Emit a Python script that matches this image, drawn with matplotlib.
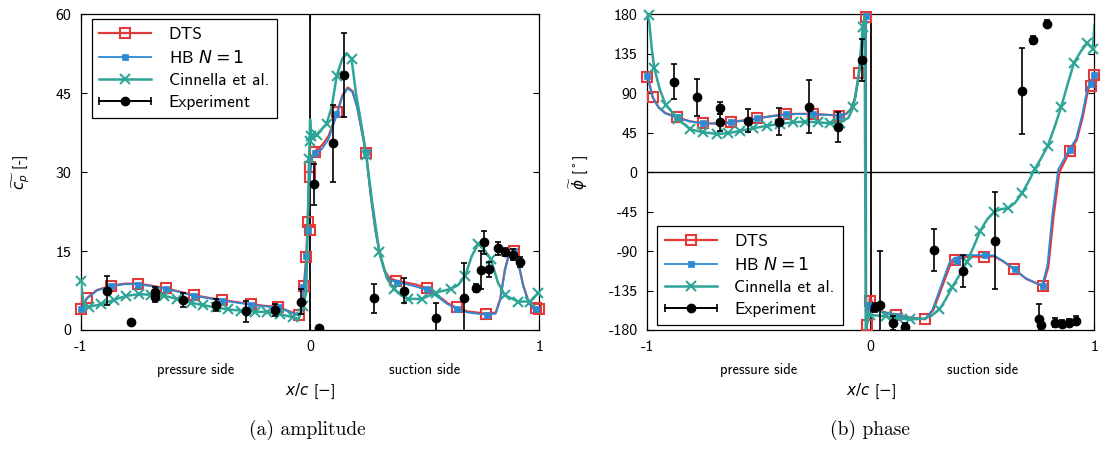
import matplotlib as mpl
mpl.use('Agg')
import matplotlib.pyplot as plt
from matplotlib.lines import Line2D
from matplotlib.legend_handler import HandlerLine2D, HandlerTuple

plt.rcParams['font.family'] = ['cmss10', 'DejaVu Sans']
plt.rcParams['mathtext.fontset'] = 'dejavusans'
plt.rcParams['axes.unicode_minus'] = False
plt.rcParams['axes.formatter.use_mathtext'] = False

# ---------------- amplitude (a) ----------------
amp_dts_x = [-1.0, -0.985, -0.973, -0.93, -0.867, -0.81, -0.75, -0.69, -0.63, -0.57, -0.507, -0.44,
             -0.384, -0.32, -0.259, -0.2, -0.142, -0.1, -0.065, -0.045, -0.033, -0.027, -0.017,
             -0.011, -0.005, 0.002, 0.01, 0.021, 0.05, 0.08, 0.119, 0.14, 0.164, 0.185, 0.205,
             0.225, 0.244, 0.265, 0.285, 0.305, 0.325, 0.345, 0.374, 0.42, 0.465, 0.508, 0.55,
             0.6, 0.639, 0.69, 0.768, 0.81, 0.83, 0.85, 0.868, 0.891, 0.91, 0.93, 0.955, 0.975, 1.0]
amp_dts_y = [3.9, 5.2, 6.1, 7.6, 8.4, 8.8, 8.8, 8.4, 7.9, 7.3, 6.6, 6.1,
             5.7, 5.3, 4.9, 4.6, 4.4, 3.7, 3.1, 2.8, 4.0, 8.4, 13.8,
             20.5, 27.0, 31.0, 33.2, 34.0, 35.0, 36.8, 41.5, 44.5, 46.1, 45.4, 42.5,
             38.0, 33.6, 25.5, 19.0, 14.3, 11.3, 9.9, 9.4, 9.0, 8.6, 7.9, 6.8,
             5.1, 4.2, 3.5, 3.1, 3.3, 6.0, 11.5, 14.5, 15.1, 12.5, 8.5, 5.2, 4.2, 4.0]
amp_dts_mx = [-1.0, -0.973, -0.867, -0.75, -0.63, -0.507, -0.384, -0.259, -0.142, -0.048, -0.027,
              -0.017, -0.011, -0.002, 0.0, 0.0, 0.021, 0.119, 0.244, 0.374, 0.508, 0.639, 0.768,
              0.891, 0.985, 1.0]
amp_dts_my = [3.9, 6.0, 8.4, 8.7, 7.9, 6.6, 5.7, 4.9, 4.4, 2.85, 8.4,
              13.8, 20.5, 19.0, 29.1, 31.0, 33.9, 41.5, 33.6, 9.4, 7.9, 4.3, 3.0,
              15.1, 4.1, 3.9]

amp_hb_x = amp_dts_x
amp_hb_y = [3.9, 5.1, 6.0, 7.5, 8.3, 8.7, 8.7, 8.3, 7.8, 7.2, 6.5, 6.0,
            5.6, 5.2, 4.8, 4.5, 4.3, 3.6, 3.0, 2.7, 3.8, 8.0, 13.2,
            20.0, 26.5, 30.5, 32.8, 33.6, 34.3, 36.2, 41.2, 44.3, 45.9, 45.2, 42.3,
            37.8, 33.5, 25.3, 18.8, 14.1, 11.1, 9.6, 9.1, 8.7, 8.2, 7.6, 6.5,
            4.9, 4.0, 3.3, 2.9, 3.1, 5.7, 11.2, 14.3, 15.0, 12.3, 8.3, 5.0, 4.0, 3.8]
amp_hb_mx = [-1.0, -0.867, -0.75, -0.63, -0.507, -0.384, -0.259, -0.142, -0.03, -0.017, -0.008,
             0.021, 0.115, 0.244, 0.378, 0.511, 0.639, 0.771, 0.891, 0.985]
amp_hb_my = [3.9, 8.3, 8.6, 7.8, 6.5, 5.6, 4.8, 4.3, 8.2, 14.0, 19.0,
             33.6, 41.0, 33.9, 9.0, 7.7, 4.0, 2.9, 15.0, 4.0]

amp_cin_x = [-1.0, -0.99, -0.98, -0.966, -0.911, -0.857, -0.802, -0.747, -0.693, -0.638, -0.58,
             -0.521, -0.467, -0.412, -0.357, -0.303, -0.24, -0.186, -0.131, -0.073, -0.05, -0.033,
             -0.017, -0.01, -0.005, -0.002, 0.0, 0.004, 0.028, 0.072, 0.095, 0.116, 0.14, 0.16,
             0.181, 0.2, 0.22, 0.244, 0.27, 0.302, 0.335, 0.367, 0.4, 0.428, 0.487, 0.549, 0.613,
             0.645, 0.676, 0.705, 0.734, 0.76, 0.788, 0.82, 0.85, 0.908, 0.959, 0.996, 1.0]
amp_cin_y = [9.3, 5.5, 4.2, 4.4, 4.9, 5.7, 6.5, 6.8, 6.7, 6.5, 5.9,
             5.2, 4.7, 4.3, 3.9, 3.7, 3.5, 3.4, 3.0, 2.4, 2.1, 4.6,
             7.0, 20.0, 32.4, 36.0, 40.0, 36.9, 37.1, 39.2, 42.5, 48.3, 51.5, 52.6,
             51.5, 45.0, 40.0, 33.6, 24.5, 14.9, 9.8, 7.8, 6.5, 5.9, 5.9, 7.1, 7.8,
             8.5, 10.2, 14.0, 16.4, 15.3, 13.5, 9.0, 6.6, 5.4, 5.4, 7.0, 7.2]
amp_cin_mx = [-1.0, -0.966, -0.911, -0.857, -0.802, -0.747, -0.693, -0.638, -0.58, -0.521, -0.467,
              -0.412, -0.357, -0.303, -0.24, -0.186, -0.131, -0.073, -0.033, -0.005, -0.002, 0.004,
              0.028, 0.072, 0.116, 0.181, 0.244, 0.302, 0.367, 0.428, 0.487, 0.549, 0.613, 0.676,
              0.734, 0.788, 0.85, 0.908, 0.959, 0.996]
amp_cin_my = [9.3, 4.4, 4.9, 5.7, 6.5, 6.8, 6.7, 6.5, 5.9, 5.2, 4.7,
              4.3, 3.9, 3.7, 3.5, 3.4, 3.0, 2.4, 4.6, 32.4, 36.0, 36.9,
              37.1, 39.2, 48.3, 51.5, 33.3, 14.9, 7.8, 5.9, 5.9, 7.1, 7.8, 10.2,
              16.4, 13.5, 6.6, 5.4, 5.4, 7.0]

amp_exp_x = [-0.888, -0.783, -0.676, -0.676, -0.553, -0.412, -0.28, -0.152, -0.041, 0.017, 0.04,
             0.098, 0.149, 0.277, 0.41, 0.55, 0.672, 0.724, 0.747, 0.757, 0.78, 0.819, 0.85,
             0.885, 0.916]
amp_exp_y = [7.5, 1.6, 7.2, 6.3, 5.7, 4.75, 3.6, 3.8, 5.4, 27.7, 0.3,
             35.5, 48.4, 6.0, 7.5, 2.2, 6.0, 8.0, 11.4, 16.7, 11.5, 15.5, 14.8,
             14.3, 12.9]
amp_exp_err = [2.8, 0.0, 1.0, 1.0, 1.3, 1.2, 2.0, 1.2, 2.4, 3.9, 0.0,
               7.3, 8.0, 2.7, 2.4, 3.0, 6.8, 0.8, 3.7, 2.2, 1.4, 1.2, 0.7,
               1.0, 1.0]

# ---------------- phase (b) ----------------
ph_dts_x = [-1.0, -0.99, -0.976, -0.95, -0.92, -0.869, -0.81, -0.749, -0.69, -0.627, -0.57, -0.508,
            -0.44, -0.381, -0.32, -0.26, -0.2, -0.144, -0.11, -0.09, -0.07, -0.053, -0.035, -0.023,
            -0.021, -0.018, -0.004, 0.01, 0.04, 0.08, 0.113, 0.18, 0.243, 0.28, 0.318, 0.355,
            0.377, 0.43, 0.508, 0.55, 0.594, 0.642, 0.697, 0.769, 0.794, 0.817, 0.843, 0.891,
            0.921, 0.948, 0.973, 0.985, 1.0]
ph_dts_y = [112, 100, 85.4, 74, 67.5, 62.6, 58, 55.7, 55.5, 56.8, 59, 61.4,
            64, 66, 66.5, 66.3, 65.5, 64.4, 66.5, 72, 85, 112.7, 150, 176.6,
            -180, -174.3, -142, -152, -158, -161, -163, -166, -167.8, -157, -131, -106,
            -100.2, -96.4, -96.4, -96, -102, -111, -122, -130, -108, -51, 0, 24.5,
            36.7, 63, 95.6, 98.5, 110.8]
ph_dts_mx = [-1.0, -0.976, -0.869, -0.749, -0.627, -0.508, -0.381, -0.26, -0.144, -0.053, -0.023,
             -0.018, -0.005, 0.113, 0.243, 0.377, 0.508, 0.642, 0.769, 0.891, 0.984, 1.0]
ph_dts_my = [108.9, 85.4, 62.6, 55.7, 56.8, 61.4, 66.0, 66.3, 64.4, 112.7, 176.6,
             -174.3, -147, -162.9, -167.8, -100.2, -96.4, -110.8, -129.8, 24.5, 98.2, 110.8]

ph_hb_x = [-1.0, -0.99, -0.976, -0.95, -0.92, -0.869, -0.81, -0.749, -0.69, -0.627, -0.57, -0.508,
           -0.44, -0.381, -0.32, -0.26, -0.2, -0.144, -0.11, -0.09, -0.07, -0.053, -0.035, -0.023,
           -0.021, -0.018, -0.006, 0.01, 0.04, 0.08, 0.113, 0.18, 0.243, 0.275, 0.312, 0.35,
           0.372, 0.43, 0.508, 0.55, 0.59, 0.638, 0.693, 0.766, 0.79, 0.812, 0.838, 0.887,
           0.918, 0.945, 0.97, 0.985, 1.0]
ph_hb_y = [112, 99, 85, 73.5, 67, 62.3, 57.8, 55.6, 55.4, 56.6, 58.8, 61.2,
           63.8, 65.8, 66.3, 66.1, 65.3, 64.2, 66.2, 71.5, 84, 112, 150, 177,
           -180, -172, -150, -153, -158.5, -161.5, -163.5, -166.5, -167.5, -157, -131, -104,
           -98, -94.5, -94.8, -95, -101, -110, -121, -129.5, -106, -48, 3, 25.5,
           38, 65, 97, 101, 111]
ph_hb_mx = [-1.0, -0.869, -0.749, -0.627, -0.508, -0.381, -0.26, -0.144, -0.023, -0.012, 0.113,
            0.385, 0.51, 0.645, 0.77, 0.893, 0.985, 1.0]
ph_hb_my = [110, 62.3, 55.6, 56.6, 61.2, 65.8, 66.1, 64.2, 178, -152, -163.5,
            -101, -94.5, -110, -129.5, 25.5, 101, 111]

ph_cin_x = [-1.0, -0.991, -0.98, -0.969, -0.945, -0.918, -0.861, -0.809, -0.752, -0.69, -0.637,
            -0.585, -0.528, -0.466, -0.406, -0.347, -0.294, -0.235, -0.183, -0.138, -0.1, -0.078,
            -0.055, -0.036, -0.028, -0.023, -0.01, -0.004, 0.03, 0.067, 0.12, 0.175, 0.24, 0.27,
            0.307, 0.335, 0.365, 0.4, 0.43, 0.46, 0.489, 0.52, 0.553, 0.585, 0.613, 0.645, 0.676,
            0.705, 0.733, 0.762, 0.791, 0.82, 0.852, 0.88, 0.909, 0.94, 0.967, 0.985, 0.993, 1.0]
ph_cin_y = [180, 170, 140, 118.4, 95, 76.6, 60.3, 48.9, 45.5, 43.6, 44.4,
            47, 50, 52.7, 55, 56.8, 57.6, 56.8, 55.7, 56.5, 62, 74.7,
            110, 166, 178, -180, -165, -162.9, -163.5, -164.5, -166.7, -168, -167, -164,
            -156.4, -145, -130.6, -116, -102.1, -85, -67.1, -54, -45.1, -42, -41.3, -35, -24.2,
            -11, 3.2, 16, 29.8, 50, 74.7, 100, 124.9, 138, 146.9, 143, 140, 168]
ph_cin_mx = [-0.991, -0.969, -0.918, -0.861, -0.809, -0.752, -0.69, -0.637, -0.585, -0.528, -0.466,
             -0.406, -0.347, -0.294, -0.235, -0.183, -0.138, -0.078, -0.036, -0.004, 0.067, 0.12,
             0.175, 0.307, 0.365, 0.43, 0.489, 0.553, 0.613, 0.676, 0.733, 0.791, 0.852, 0.909,
             0.967, 0.993]
ph_cin_my = [179, 118.4, 76.6, 60.3, 48.9, 45.5, 43.6, 44.4, 47, 50, 52.7,
             55, 56.8, 57.6, 56.8, 55.7, 56.5, 74.7, 166, -162.9, -164.5, -166.7,
             -168, -156.4, -130.6, -102.1, -67.1, -45.1, -41.3, -24.2, 3.2, 29.8, 74.7, 124.9,
             146.9, 140]

ph_exp_x = [-0.882, -0.78, -0.674, -0.674, -0.551, -0.409, -0.279, -0.149, -0.038, 0.018, 0.039,
            0.101, 0.152, 0.281, 0.411, 0.555, 0.675, 0.725, 0.787, 0.753, 0.759, 0.822, 0.853,
            0.887, 0.918]
ph_exp_y = [103.2, 85.3, 72.8, 56.8, 58.7, 57.6, 74.7, 51.9, 127.9, -154.2, -151.5,
            -172.4, -177, -88.8, -112.7, -78.1, 93, 150.7, 169, -167.8, -174.3, -171.6, -173,
            -171.6, -169.4]
ph_exp_err = [20, 21, 7, 10, 13, 15, 30, 17, 24, 5, 62,
              8, 5, 24, 18, 55, 49, 5, 4, 17, 3, 5, 4,
              4, 5]

red = '#e23a3a'
blue = '#2b8ad6'
teal = '#2ea597'

dts_style = dict(color=red, lw=1.6, marker='s', ms=7, mfc='none', mec=red, mew=1.5)
hb_style = dict(color=blue, lw=1.3, marker='s', ms=4, mfc=blue, mec=blue, mew=0.5)
cin_style = dict(color=teal, lw=1.8, marker='x', ms=7, mec=teal, mew=1.5)


def draw_model(ax, xl, yl, xm, ym, st):
    ax.plot(xl, yl, color=st['color'], lw=st['lw'], zorder=3)
    ax.plot(xm, ym, ls='none', marker=st['marker'], ms=st['ms'], mfc=st.get('mfc', 'none'),
            mec=st['mec'], mew=st['mew'], zorder=3, clip_on=False)


def draw_panel(ax, d, h, c, e):
    ax.axvline(0, color='black', lw=1.3, zorder=2)
    draw_model(ax, *d, dts_style)
    draw_model(ax, *h, hb_style)
    draw_model(ax, *c, cin_style)
    ax.errorbar(e[0], e[1], yerr=e[2], fmt='o', color='black', ms=6, elinewidth=1.2,
                capsize=2.5, capthick=1.2, zorder=4)
    ax.set_xlim(-1, 1)
    ax.set_xticks([-1, 0, 1])
    ax.set_xticklabels(['-1', '0', '1'])
    ax.tick_params(direction='in', top=True, right=True, labelsize=11.5, pad=7, length=4, width=0.8)
    for s in ax.spines.values():
        s.set_linewidth(0.9)
    tr = ax.get_xaxis_transform()
    ax.text(-0.5, -0.127, 'pressure side', transform=tr, ha='center', va='center', fontsize=10.5)
    ax.text(0.5, -0.127, 'suction side', transform=tr, ha='center', va='center', fontsize=10.5)
    ax.set_xlabel(r'$x/c$ [$-$]', fontsize=11)
    ax.xaxis.set_label_coords(0.5, -0.165)


def legend(ax, loc, anchor):
    hs = [Line2D([], [], **dts_style), Line2D([], [], **hb_style), Line2D([], [], **cin_style)]
    caps = Line2D([], [], color='black', lw=1.2, marker='|', ms=6, mew=1.2)
    dot = Line2D([], [], color='black', lw=1.2, marker='o', ms=6)
    hs.append((caps, dot))
    leg = ax.legend(hs, ['DTS', r'HB $N=1$', 'Cinnella et al.', 'Experiment'],
                    loc=loc, bbox_to_anchor=anchor, borderaxespad=0, fontsize=12.5,
                    handlelength=3.0, handletextpad=1.0, fancybox=False, framealpha=1,
                    edgecolor='black', labelspacing=0.4, borderpad=0.45,
                    handler_map={tuple: HandlerTuple(ndivide=1),
                                 caps: HandlerLine2D(numpoints=2, marker_pad=0)})
    leg.get_frame().set_linewidth(0.9)
    leg.set_zorder(10)


fig = plt.figure(figsize=(11.03, 4.5), dpi=100)
ax1 = fig.add_axes([0.0734, 0.2667, 0.4155, 0.7016])
ax2 = fig.add_axes([0.5869, 0.2667, 0.4053, 0.7016])

draw_panel(ax1, (amp_dts_x, amp_dts_y, amp_dts_mx, amp_dts_my),
           (amp_hb_x, amp_hb_y, amp_hb_mx, amp_hb_my),
           (amp_cin_x, amp_cin_y, amp_cin_mx, amp_cin_my),
           (amp_exp_x, amp_exp_y, amp_exp_err))
ax1.set_ylim(0, 60)
ax1.set_yticks([0, 15, 30, 45, 60])
ax1.set_ylabel(r'$\widetilde{c_p}$ [-]', fontsize=11)
ax1.yaxis.set_label_coords(-0.11, 0.5)
legend(ax1, 'upper left', (0.023, 0.984))

draw_panel(ax2, (ph_dts_x, ph_dts_y, ph_dts_mx, ph_dts_my),
           (ph_hb_x, ph_hb_y, ph_hb_mx, ph_hb_my),
           (ph_cin_x, ph_cin_y, ph_cin_mx, ph_cin_my),
           (ph_exp_x, ph_exp_y, ph_exp_err))
ax2.axhline(0, color='black', lw=1.0, zorder=2)
ax2.set_ylim(-180, 180)
ax2.set_yticks(range(-180, 181, 45))
ax2.set_ylabel(r'$\widetilde{\phi}$ [$^\circ$]', fontsize=11)
ax2.yaxis.set_label_coords(-0.128, 0.5)
legend(ax2, 'lower left', (0.022, 0.016))

fig.text(0.279, 0.044, '(a) amplitude', family='cmr10', fontsize=14, ha='center', va='center')
fig.text(0.789, 0.044, '(b) phase', family='cmr10', fontsize=14, ha='center', va='center')

fig.savefig('out.png', dpi=100)
